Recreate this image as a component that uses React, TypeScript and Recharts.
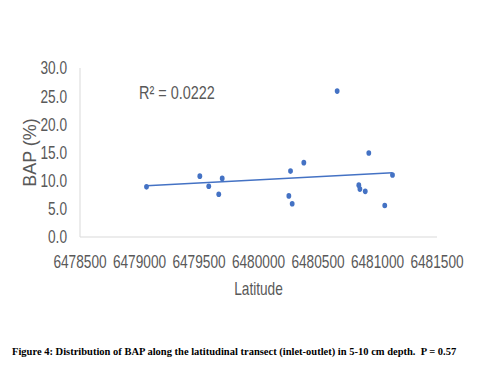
import React from 'react';
import { ScatterChart, Scatter, XAxis, YAxis, ReferenceLine } from 'recharts';

const latitude = [
  6479059, 6479507, 6479582, 6479666, 6479695, 6480661, 6480927, 6480381,
  6480269, 6480255, 6480283, 6480843, 6480852, 6480897, 6481126, 6481061,
];
const bap = [8.9, 10.8, 9.0, 7.6, 10.4, 25.9, 14.9, 13.2, 11.7, 7.3, 5.9, 9.2, 8.5, 8.1, 11.0, 5.6];
const xTicks = [6478500, 6479000, 6479500, 6480000, 6480500, 6481000, 6481500];
const yTicks = [0, 5, 10, 15, 20, 25, 30];

const points = latitude.map((x, i) => ({ x, y: bap[i] }));

// linear trendline (least squares), drawn over the data's x range
const n = points.length;
const mx = latitude.reduce((a, b) => a + b, 0) / n;
const my = bap.reduce((a, b) => a + b, 0) / n;
let sxy = 0;
let sxx = 0;
points.forEach((p) => {
  sxy += (p.x - mx) * (p.y - my);
  sxx += (p.x - mx) * (p.x - mx);
});
const slope = sxy / sxx;
const fit = (x: number) => my + slope * (x - mx);
const xMin = Math.min(...latitude);
const xMax = Math.max(...latitude);

const BLUE = '#4472c4';
const GRID = '#d9d9d9';
const TEXT = '#595959';
const FONT = "'Liberation Sans', Arial, sans-serif";
const SQUEEZE = 0.76; // the original uses a condensed face

const Dot = (props: any) => {
  const { cx, cy } = props;
  if (cx == null || cy == null) return <g />;
  return <ellipse cx={cx} cy={cy} rx={2.4} ry={2.8} fill={BLUE} />;
};

const XTick = ({ x, y, payload }: any) => (
  <text
    transform={`translate(${x},${y}) scale(${SQUEEZE},1)`}
    textAnchor="middle"
    dy="0.71em"
    fill={TEXT}
    fontSize={18}
    fontFamily={FONT}
  >
    {payload.value}
  </text>
);

const YTick = ({ x, y, payload }: any) => (
  <text
    transform={`translate(${x},${y}) scale(${SQUEEZE},1)`}
    textAnchor="end"
    dy="0.355em"
    fill={TEXT}
    fontSize={18}
    fontFamily={FONT}
  >
    {Number(payload.value).toFixed(1)}
  </text>
);

const XTitle = ({ viewBox }: any) => (
  <text
    transform={`translate(${viewBox.x + viewBox.width / 2},${viewBox.y + 58}) scale(${SQUEEZE},1)`}
    textAnchor="middle"
    fill={TEXT}
    fontSize={18}
    fontFamily={FONT}
  >
    Latitude
  </text>
);

const YTitle = ({ viewBox }: any) => (
  <text
    transform={`translate(${viewBox.x + 30},${viewBox.y + viewBox.height / 2}) rotate(-90)`}
    textAnchor="middle"
    dy="0.355em"
    fill={TEXT}
    fontSize={18}
    fontFamily={FONT}
  >
    BAP (%)
  </text>
);

export default function App() {
  return (
    <div style={{ position: 'relative', width: 483, height: 378, margin: -8, background: '#fff' }}>
      <ScatterChart width={483} height={310} margin={{ top: 68, right: 46, bottom: 0, left: 0 }}>
        <XAxis
          type="number"
          dataKey="x"
          domain={[6478500, 6481500]}
          ticks={xTicks}
          interval={0}
          stroke={GRID}
          tickLine={false}
          tickSize={6}
          tickMargin={12}
          height={73}
          tick={<XTick />}
          label={<XTitle />}
        />
        <YAxis
          type="number"
          dataKey="y"
          domain={[0, 30]}
          ticks={yTicks}
          interval={0}
          width={80}
          stroke={GRID}
          tickLine={false}
          tickSize={6}
          tickMargin={7}
          tick={<YTick />}
          label={<YTitle />}
        />
        <ReferenceLine
          segment={[
            { x: xMin, y: fit(xMin) },
            { x: xMax, y: fit(xMax) },
          ]}
          stroke={BLUE}
          strokeWidth={1.5}
        />
        <Scatter data={points} fill={BLUE} shape={<Dot />} isAnimationActive={false} />
      </ScatterChart>
      <div
        style={{
          position: 'absolute',
          left: 139,
          top: 82,
          fontFamily: FONT,
          fontSize: 19,
          color: TEXT,
          lineHeight: '22px',
          whiteSpace: 'nowrap',
          transform: `scaleX(${SQUEEZE})`,
          transformOrigin: '0 0',
        }}
      >
        R² = 0.0222
      </div>
      <div
        style={{
          position: 'absolute',
          left: 12,
          top: 346,
          fontFamily: "'Liberation Serif', 'Times New Roman', serif",
          fontWeight: 'bold',
          fontSize: 10.5,
          color: '#000',
          whiteSpace: 'nowrap',
        }}
      >
        Figure 4: Distribution of BAP along the latitudinal transect (inlet-outlet) in 5-10 cm depth.&nbsp; P = 0.57
      </div>
    </div>
  );
}
